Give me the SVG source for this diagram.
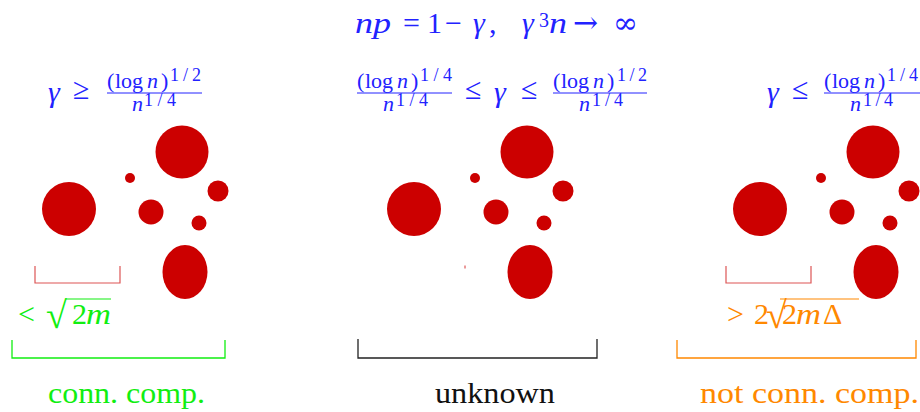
<svg xmlns="http://www.w3.org/2000/svg" width="920" height="412" viewBox="0 0 920 412">
<style>
text{font-family:"Liberation Serif","DejaVu Serif",serif;}
.it{font-style:italic;}
.dj{font-family:"DejaVu Serif",serif;}
.blue{fill:#2222ff;}
.green{fill:#11ee11;}
.orange{fill:#ff8800;}
.m{font-size:30px;}
.num{font-size:22px;}
.sup{font-size:18px;}
.lab{font-size:29px;}
.rad{font-size:38px;}
.dot{fill:#cc0000;}
.bar{stroke:#2222ff;stroke-width:1;}
.rb{fill:none;stroke:#dd5555;stroke-width:1.2;}
.br{fill:none;stroke-width:1.3;}
</style>
<defs>
<g id="blobs">
<circle class="dot" cx="69" cy="209" r="27"/>
<circle class="dot" cx="182" cy="152" r="26.5"/>
<circle class="dot" cx="130" cy="178" r="5"/>
<circle class="dot" cx="151" cy="212" r="12.5"/>
<circle class="dot" cx="218" cy="191" r="10.5"/>
<circle class="dot" cx="199" cy="223" r="7.5"/>
<ellipse class="dot" cx="185" cy="272" rx="22.5" ry="27"/>
</g>
</defs>

<g id="title">
<text class="m blue"><tspan class="it" x="355" y="33" textLength="36" lengthAdjust="spacingAndGlyphs">np</tspan><tspan x="403" y="33">=</tspan><tspan x="427" y="33">1</tspan><tspan x="445" y="33">−</tspan><tspan class="it" x="473" y="33">γ</tspan><tspan x="489" y="33">,</tspan><tspan class="it" x="522" y="33">γ</tspan><tspan style="font-size:20px" x="539" y="27">3</tspan><tspan class="it" x="549" y="33" textLength="18" lengthAdjust="spacingAndGlyphs">n</tspan><tspan class="dj" x="573" y="33">→</tspan><tspan class="dj" x="613" y="33">∞</tspan></text>
</g>

<g id="panel-left">
<text class="blue"><tspan class="m it" x="48" y="102">γ</tspan><tspan class="m" x="73" y="99">≥</tspan></text>
<text class="blue num"><tspan x="107" y="88">(</tspan><tspan x="115" y="88">log</tspan><tspan class="it" x="147" y="88">n</tspan><tspan x="161" y="88">)</tspan><tspan class="sup" x="170" y="81" textLength="31" lengthAdjust="spacing">1/2</tspan></text>
<line class="bar" x1="107" y1="93" x2="202" y2="93"/>
<text class="blue num"><tspan class="it" x="132" y="111">n</tspan><tspan class="sup" x="144" y="106" textLength="32" lengthAdjust="spacing">1/4</tspan></text>
<use href="#blobs"/>
<path class="rb" d="M35,266 V283 H120 V266"/>
<text class="green m"><tspan x="18" y="324">&lt;</tspan><tspan class="rad" x="46" y="328">√</tspan><tspan x="72" y="324">2</tspan><tspan class="it" x="86" y="324" textLength="25" lengthAdjust="spacingAndGlyphs">m</tspan></text>
<line x1="66" y1="299" x2="111" y2="299" stroke="#11ee11" stroke-width="1.2"/>
<path class="br" stroke="#11ee11" d="M12,340 V358 H225 V340"/>
<text class="green lab" x="48" y="403" textLength="157" lengthAdjust="spacingAndGlyphs">conn. comp.</text>
</g>

<g id="panel-middle">
<text class="blue num"><tspan x="357" y="88">(</tspan><tspan x="365" y="88">log</tspan><tspan class="it" x="397" y="88">n</tspan><tspan x="411" y="88">)</tspan><tspan class="sup" x="420" y="81" textLength="32" lengthAdjust="spacing">1/4</tspan></text>
<line class="bar" x1="357" y1="93" x2="452" y2="93"/>
<text class="blue num"><tspan class="it" x="383" y="111">n</tspan><tspan class="sup" x="396" y="106" textLength="32" lengthAdjust="spacing">1/4</tspan></text>
<text class="blue m"><tspan x="465" y="99">≤</tspan><tspan class="it" x="494" y="102">γ</tspan><tspan x="521" y="99">≤</tspan></text>
<text class="blue num"><tspan x="553" y="88">(</tspan><tspan x="561" y="88">log</tspan><tspan class="it" x="593" y="88">n</tspan><tspan x="607" y="88">)</tspan><tspan class="sup" x="617" y="81" textLength="30" lengthAdjust="spacing">1/2</tspan></text>
<line class="bar" x1="553" y1="93" x2="647" y2="93"/>
<text class="blue num"><tspan class="it" x="579" y="111">n</tspan><tspan class="sup" x="592" y="106" textLength="31" lengthAdjust="spacing">1/4</tspan></text>
<use href="#blobs" transform="translate(345,0)"/>
<line x1="465" y1="265.5" x2="465" y2="268.5" stroke="#cc0000" stroke-width="0.8"/>
<path class="br" stroke="#222" d="M358,339 V358 H597 V339"/>
<text class="lab" fill="#111" x="435" y="403" textLength="120" lengthAdjust="spacingAndGlyphs">unknown</text>
</g>

<g id="panel-right">
<text class="blue m"><tspan class="it" x="767" y="102">γ</tspan><tspan x="792" y="99">≤</tspan></text>
<text class="blue num"><tspan x="824" y="88">(</tspan><tspan x="832" y="88">log</tspan><tspan class="it" x="864" y="88">n</tspan><tspan x="878" y="88">)</tspan><tspan class="sup" x="887" y="81" textLength="31" lengthAdjust="spacing">1/4</tspan></text>
<line class="bar" x1="824" y1="93" x2="920" y2="93"/>
<text class="blue num"><tspan class="it" x="850" y="111">n</tspan><tspan class="sup" x="863" y="106" textLength="30" lengthAdjust="spacing">1/4</tspan></text>
<use href="#blobs" transform="translate(691,0)"/>
<path class="rb" d="M726,266 V283 H811 V266"/>
<text class="orange m"><tspan x="727" y="324">&gt;</tspan><tspan x="754" y="324">2</tspan><tspan class="rad" x="766" y="328">√</tspan><tspan x="782" y="324">2</tspan><tspan class="it" x="796" y="324" textLength="25" lengthAdjust="spacingAndGlyphs">m</tspan><tspan x="823" y="324">Δ</tspan></text>
<line x1="780" y1="299" x2="859" y2="299" stroke="#ff8800" stroke-width="1.2"/>
<path class="br" stroke="#ff8800" d="M677,340 V358 H916 V340"/>
<text class="orange lab" x="700" y="403" textLength="219" lengthAdjust="spacingAndGlyphs">not conn. comp.</text>
</g>

<g id="connectors"></g>
</svg>
